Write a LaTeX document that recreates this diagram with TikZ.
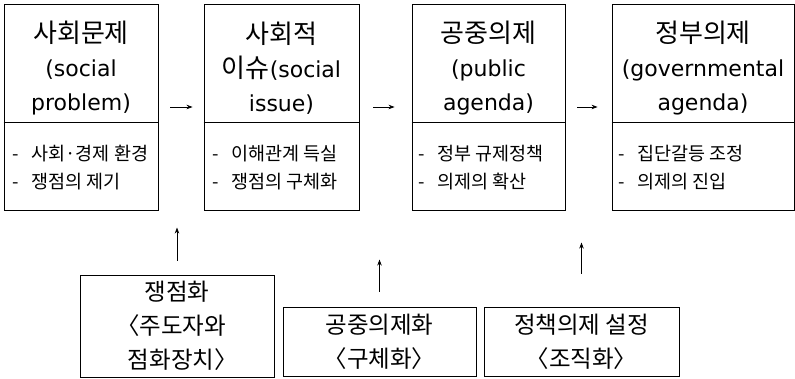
\documentclass[tikz,border=0pt]{standalone}
\usepackage{fontspec}
\setmainfont{Noto Sans CJK KR}
\newfontfamily\latfont{DejaVu Sans}
\newcommand\lat[1]{{\latfont\fontsize{22}{34}\selectfont #1}}
\newcommand\lb{\makebox[0.5em][r]{〈}}
\newcommand\rb{\makebox[0.5em][l]{〉}}
\usetikzlibrary{arrows.meta}
\tikzset{
  box/.style={draw, line width=0.9pt, inner sep=0pt},
  ttl/.style={font=\fontsize{26}{34}\selectfont, align=center, inner sep=0pt},
  lst/.style={font=\fontsize{18.5}{28}\selectfont, align=left, anchor=west, inner sep=0pt},
  sub/.style={font=\fontsize{23.5}{34}\selectfont, align=center},
  divider/.style={line width=0.8pt},
  arr/.style={-{Stealth[length=6pt,width=4.5pt]}, line width=0.7pt},
}
\begin{document}
\begin{tikzpicture}[x=1pt,y=-1pt]
\useasboundingbox (0,0) rectangle (795,379);
% top boxes
\node[box, minimum width=154pt, minimum height=206pt] (b1) at (81,107) {};
\node[box, minimum width=155pt, minimum height=206pt] (b2) at (281.5,107) {};
\node[box, minimum width=153pt, minimum height=206pt] (b3) at (488.5,107) {};
\node[box, minimum width=182pt, minimum height=206pt] (b4) at (703,107) {};
\foreach \b in {b1,b2,b3,b4}{
  \draw[divider] (\b.west |- 0,122) -- (\b.east |- 0,122);
}
% titles
\node[ttl] (t1) at (b1.center |- 0,68) {사회문제\\\lat{(social}\\\lat{problem)}};
\node[ttl] (t2) at (b2.center |- 0,68) {사회적\\이슈\lat{(social}\\\lat{issue)}};
\node[ttl] (t3) at (b3.center |- 0,68) {공중의제\\\lat{(public}\\\lat{agenda)}};
\node[ttl] (t4) at (b4.center |- 0,68) {정부의제\\\lat{(governmental}\\\lat{agenda)}};
% lists
\node[lst] (l1) at (12,168) {-\hspace{0.7em}사회·경제 환경\\-\hspace{0.7em}쟁점의 제기};
\node[lst] (l2) at (212,168) {-\hspace{0.7em}이해관계 득실\\-\hspace{0.7em}쟁점의 구체화};
\node[lst] (l3) at (418,168) {-\hspace{0.7em}정부 규제정책\\-\hspace{0.7em}의제의 확산};
\node[lst] (l4) at (618,168) {-\hspace{0.7em}집단갈등 조정\\-\hspace{0.7em}의제의 진입};
% horizontal arrows
\draw[arr] ([xshift=12pt]b1.east) -- ([xshift=-11pt]b2.west);
\draw[arr] ([xshift=14pt]b2.east) -- ([xshift=-17pt]b3.west);
\draw[arr] ([xshift=12pt]b3.east) -- ([xshift=-14pt]b4.west);
% bottom boxes
\node[box, sub, minimum width=194pt, minimum height=102pt] (bb1) at (177,326) {쟁점화\\\lb 주도자와\\점화장치\rb};
\node[box, sub, minimum width=193pt, minimum height=69pt] (bb2) at (379.5,341.5) {공중의제화\\\lb 구체화\rb};
\node[box, sub, minimum width=195pt, minimum height=69pt] (bb3) at (581.5,341.5) {정책의제 설정\\\lb 조직화\rb};
% vertical arrows
\draw[arr] ([yshift=14pt]bb1.north) -- ([yshift=47pt]bb1.north);
\draw[arr] ([yshift=15pt]bb2.north) -- ([yshift=47pt]bb2.north);
\draw[arr] ([yshift=33pt]bb3.north) -- ([yshift=64pt]bb3.north);
\end{tikzpicture}
\end{document}
